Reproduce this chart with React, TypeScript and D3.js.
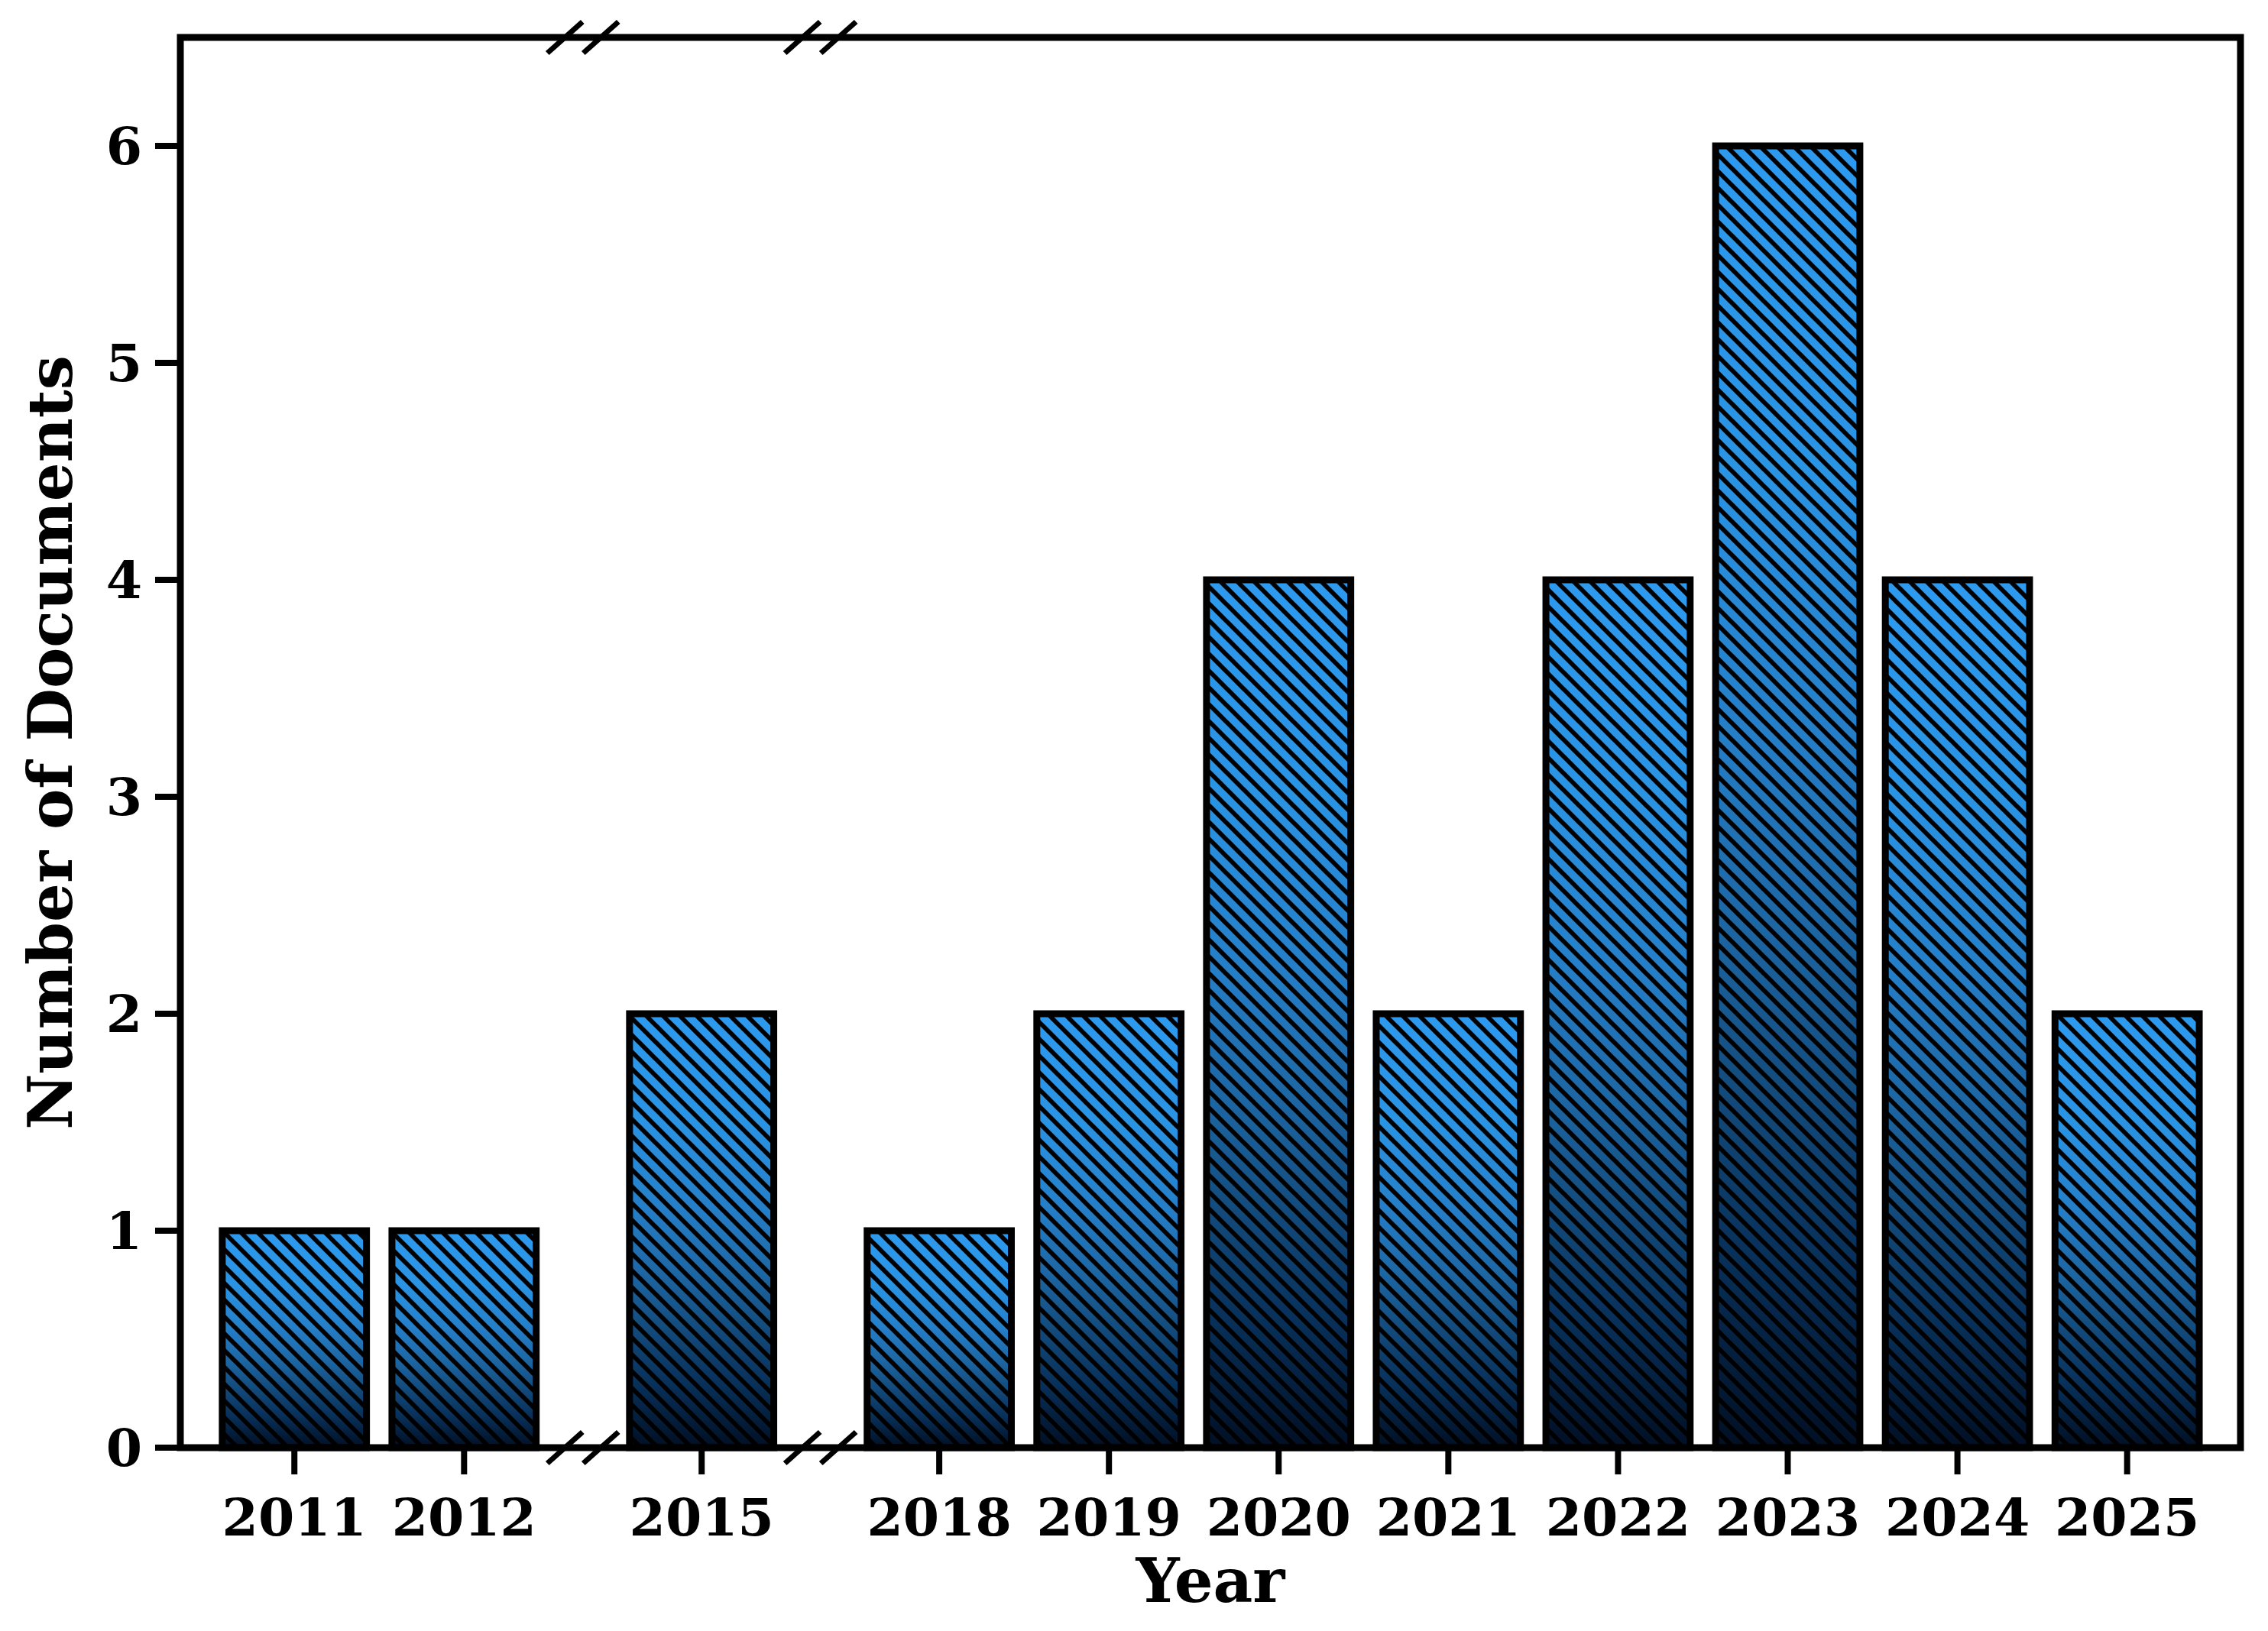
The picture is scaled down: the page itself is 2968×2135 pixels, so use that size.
import { useMemo } from "react";
import * as d3 from "d3";

// chart data
const years = ["2011", "2012", "2015", "2018", "2019", "2020", "2021", "2022", "2023", "2024", "2025"];
const docs = [1, 1, 2, 1, 2, 4, 2, 4, 6, 4, 2];
// x positions: breaks between 2012/2015 and 2015/2018 add a wider gap
const positions = [0, 1, 2.4, 3.8, 4.8, 5.8, 6.8, 7.8, 8.8, 9.8, 10.8];
const breakAt = [1.7, 3.1];
const yTicks = [0, 1, 2, 3, 4, 5, 6];

const W = 2968;
const H = 2135;
const margin = { left: 236, right: 36, top: 49, bottom: 240 };
const barWidth = 0.85;
const font = "'DejaVu Serif', 'Liberation Serif', serif";

const gradStops: [number, string][] = [
  [0, "#2c9af0"],
  [0.25, "#2993e4"],
  [0.45, "#247ec8"],
  [0.6, "#1c66a4"],
  [0.72, "#134c7e"],
  [0.85, "#08315b"],
  [1, "#010f24"],
];

export default function App() {
  const x = useMemo(
    () => d3.scaleLinear().domain([-0.672, 11.468]).range([margin.left, W - margin.right]),
    []
  );
  const y = useMemo(
    () => d3.scaleLinear().domain([0, 6.5]).range([H - margin.bottom, margin.top]),
    []
  );

  const x0 = x.range()[0];
  const x1 = x.range()[1];
  const yb = y(0);
  const yt = y(6.5);
  const bw = x(barWidth) - x(0);

  const slash = (cx: number, cy: number) => {
    const dx = 23;
    const dy = 20.5;
    return [-23.5, 23.5].map((off, i) => (
      <line
        key={i}
        x1={cx + off - dx}
        y1={cy + dy}
        x2={cx + off + dx}
        y2={cy - dy}
        stroke="#000"
        strokeWidth={7}
      />
    ));
  };

  return (
    <div style={{ position: "absolute", left: 0, top: 0 }}>
      <svg width={W} height={H} style={{ display: "block", background: "#fff" }}>
        <defs>
          <linearGradient id="barGrad" x1="0" y1="0" x2="0" y2="1">
            {gradStops.map(([o, c]) => (
              <stop key={o} offset={o} stopColor={c} />
            ))}
          </linearGradient>
          <pattern id="hatch" patternUnits="userSpaceOnUse" width={22} height={22}>
            <path
              d="M-6,-6 L28,28 M-6,16 L6,28 M16,-6 L28,6"
              stroke="#000"
              strokeWidth={5.8}
            />
          </pattern>
        </defs>

        {/* bars */}
        {years.map((yr, i) => {
          const bx = x(positions[i]) - bw / 2;
          const by = y(docs[i]);
          const bh = yb - by;
          return (
            <g key={yr}>
              <rect x={bx} y={by} width={bw} height={bh} fill="url(#barGrad)" />
              <rect x={bx} y={by} width={bw} height={bh} fill="url(#hatch)" />
              <rect
                x={bx}
                y={by}
                width={bw}
                height={bh}
                fill="none"
                stroke="#000"
                strokeWidth={9}
              />
            </g>
          );
        })}

        {/* frame */}
        <rect
          x={x0}
          y={yt}
          width={x1 - x0}
          height={yb - yt}
          fill="none"
          stroke="#000"
          strokeWidth={9}
        />

        {/* y ticks */}
        {yTicks.map((t) => (
          <g key={t}>
            <line x1={x0 - 33} x2={x0} y1={y(t)} y2={y(t)} stroke="#000" strokeWidth={8} />
            <text
              x={x0 - 50}
              y={y(t)}
              dy="0.36em"
              textAnchor="end"
              fontFamily={font}
              fontWeight="bold"
              fontSize={68}
            >
              {t}
            </text>
          </g>
        ))}

        {/* x ticks */}
        {years.map((yr, i) => (
          <g key={yr}>
            <line
              x1={x(positions[i])}
              x2={x(positions[i])}
              y1={yb}
              y2={yb + 35}
              stroke="#000"
              strokeWidth={8}
            />
            <text
              x={x(positions[i])}
              y={2010}
              textAnchor="middle"
              fontFamily={font}
              fontWeight="bold"
              fontSize={68}
            >
              {yr}
            </text>
          </g>
        ))}

        {/* axis break marks */}
        {breakAt.map((b) => (
          <g key={b}>
            {slash(x(b), yt)}
            {slash(x(b), yb)}
          </g>
        ))}

        {/* axis titles */}
        <text
          x={(x0 + x1) / 2}
          y={2097}
          textAnchor="middle"
          fontFamily={font}
          fontWeight="bold"
          fontSize={80}
        >
          Year
        </text>
        <text
          transform={`translate(94, ${(yt + yb) / 2}) rotate(-90)`}
          textAnchor="middle"
          fontFamily={font}
          fontWeight="bold"
          fontSize={80}
        >
          Number of Documents
        </text>
      </svg>
    </div>
  );
}
